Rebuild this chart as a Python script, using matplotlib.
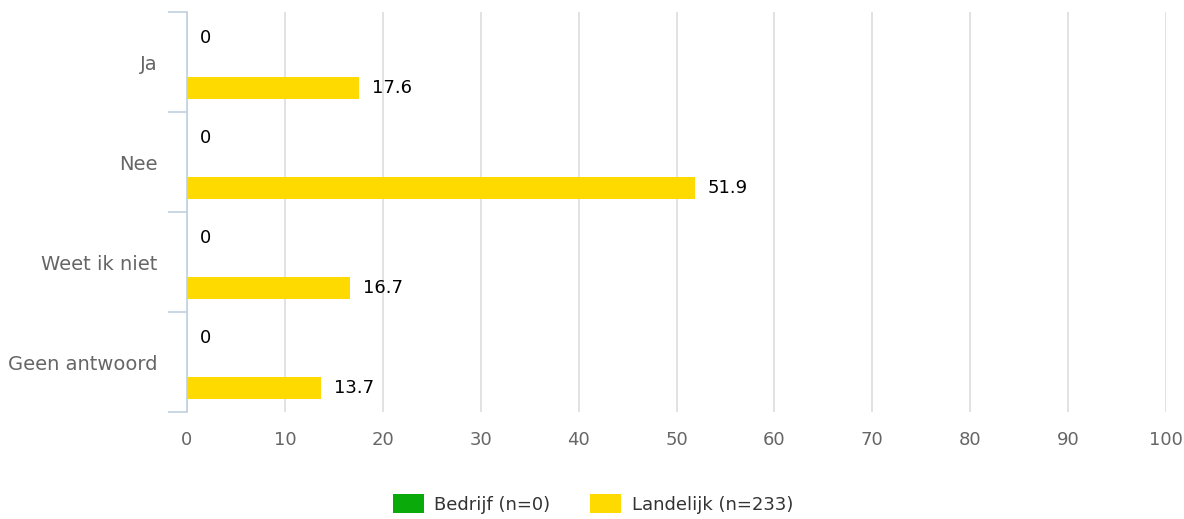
import matplotlib
matplotlib.use("Agg")
import matplotlib.pyplot as plt
from matplotlib.patches import Patch
from matplotlib.ticker import FixedLocator

categories = ["Ja", "Nee", "Weet ik niet", "Geen antwoord"]
bedrijf = [0, 0, 0, 0]
landelijk = [17.6, 51.9, 16.7, 13.7]
series_names = ["Bedrijf (n=0)", "Landelijk (n=233)"]
colors = ["#0AAA0A", "#FFDA00"]
x_ticks = list(range(0, 101, 10))

plt.rcParams["font.family"] = ["DejaVu Sans"]

fig = plt.figure(figsize=(11.84, 5.19), dpi=100)
W, H = 1184, 519
ax = fig.add_axes([187 / W, 1 - 412 / H, (1166 - 187) / W, 400 / H])

pos = list(range(len(categories)))
bar_h = 0.22
for vals, off, col in [(bedrijf, -0.24, colors[0]), (landelijk, 0.26, colors[1])]:
    ys = [p + off for p in pos]
    ax.barh(ys, vals, height=bar_h, color=col, zorder=3)
    for y, v in zip(ys, vals):
        ax.annotate(f"{v:g}", (v, y), xytext=(9, 0), textcoords="offset points",
                    va="center", ha="left", fontsize=13, color="#000000")

ax.set_xlim(0, 100)
ax.set_ylim(len(categories) - 0.5, -0.5)

# vertical grid
ax.set_xticks(x_ticks)
ax.xaxis.grid(True, color="#DADADA", linewidth=1.1, zorder=0)
ax.tick_params(axis="x", length=0, pad=14, labelsize=13, labelcolor="#666666")

# category boundaries as major ticks, labels on minor ticks
ax.yaxis.set_major_locator(FixedLocator([p - 0.5 for p in pos] + [len(pos) - 0.5]))
ax.yaxis.set_major_formatter(plt.NullFormatter())
ax.yaxis.set_minor_locator(FixedLocator(pos))
ax.set_yticklabels(categories, minor=True)
ax.tick_params(axis="y", which="major", length=14, width=1.2, color="#C0D0E0", direction="out")
ax.tick_params(axis="y", which="minor", length=0, pad=21, labelsize=14, labelcolor="#666666")

for s in ["top", "right", "bottom"]:
    ax.spines[s].set_visible(False)
ax.spines["left"].set_color("#C0D0E0")
ax.spines["left"].set_linewidth(1.2)
ax.spines["left"].set_zorder(4)

handles = [Patch(facecolor=c, edgecolor="none") for c in colors]
fig.legend(handles, series_names, loc="center", bbox_to_anchor=(593 / W, 1 - 504 / H),
           ncol=2, frameon=False, fontsize=13, labelcolor="#333333",
           handlelength=1.72, handleheight=1.17, handletextpad=0.6, columnspacing=2.2)

fig.savefig("out.png", dpi=100)
